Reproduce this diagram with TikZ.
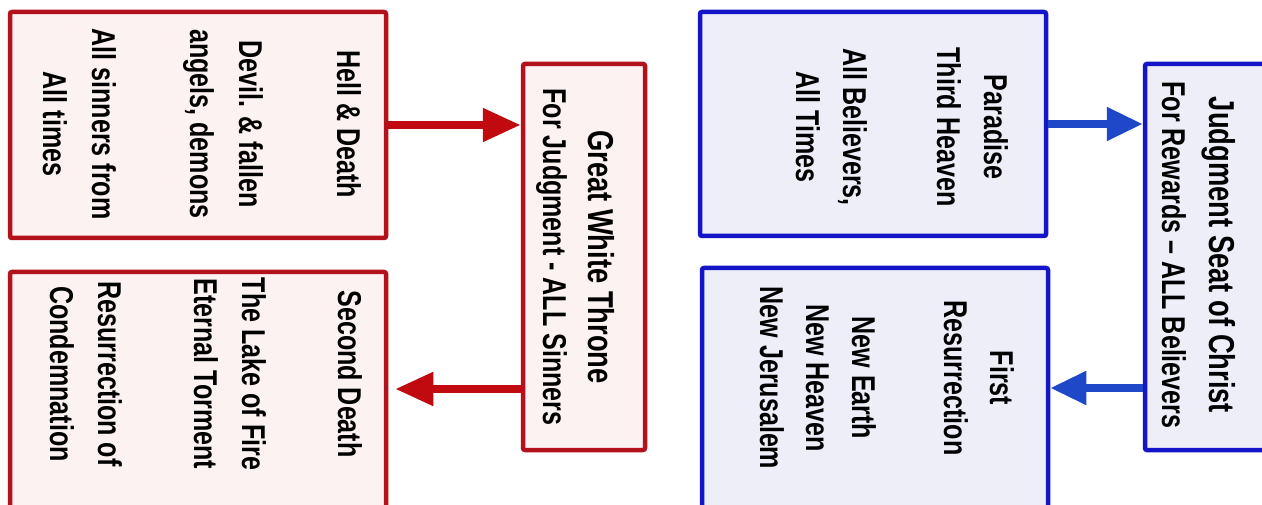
\documentclass[tikz,border=0pt]{standalone}
\usepackage{fontspec}
\setmainfont{Liberation Sans}
\usetikzlibrary{arrows.meta}
\definecolor{redline}{HTML}{B3121C}
\definecolor{redfill}{HTML}{FDF2F2}
\definecolor{blueline}{HTML}{1414C8}
\definecolor{bluefill}{HTML}{EEEEF9}
\definecolor{redarr}{HTML}{C00A0F}
\definecolor{bluearr}{HTML}{1E48C8}
\newcommand{\cond}[2]{\scalebox{0.76}[1]{\fontsize{33}{#1}\selectfont\bfseries\begin{tabular}[t]{@{}c@{}}#2\end{tabular}}}
\tikzset{
  boxbase/.style={rectangle, line width=4.5pt, rounded corners=2pt, inner sep=0pt},
  redbox/.style={boxbase, draw=redline, fill=redfill},
  bluebox/.style={boxbase, draw=blueline, fill=bluefill},
  txt/.style={rotate=-90, anchor=base, inner sep=0pt, text=black},
  redarrow/.style={draw=redarr, line width=8pt, -{Triangle[length=38pt,width=32pt]}},
  bluearrow/.style={draw=bluearr, line width=8pt, -{Triangle[length=36pt,width=32pt]}}
}
\begin{document}
\begin{tikzpicture}[x=1pt,y=-1pt]
\useasboundingbox (0,0) rectangle (1262,505);
\clip (0,0) rectangle (1262,505);
\fill[white] (0,0) rectangle (1262,505);
% boxes
\node[redbox, minimum width=376pt, minimum height=226pt] (hell) at (198,125) {};
\node[redbox, minimum width=376pt, minimum height=248pt] (sd) at (198,396) {};
\node[redbox, minimum width=122pt, minimum height=386pt] (gwt) at (584,257) {};
\node[bluebox, minimum width=346pt, minimum height=224pt] (par) at (873,124) {};
\node[bluebox, minimum width=346pt, minimum height=252pt] (fr) at (875,394) {};
\node[bluebox, minimum width=135pt, minimum height=386pt] (jsc) at (1212.5,257) {};
% texts
\node[txt] (hellt) at (337,124) {\cond{49}{Hell \& Death\\ \\Devil. \& fallen\\angels, demons\\ \\All sinners from\\All times}};
\node[txt] (sdt) at (338,374) {\cond{48}{Second Death\\ \\The Lake of Fire\\Eternal Torment\\ \\Resurrection of\\Condemnation}};
\node[txt] (gwtt) at (588,257) {\cond{45}{\fontsize{36}{45}\selectfont Great White Throne\\For Judgment - ALL Sinners}};
\node[txt] (part) at (984,127) {\cond{47}{Paradise\\Third Heaven\\ \\All Believers,\\All Times}};
\node[txt] (frt) at (990,378) {\cond{46}{First\\Resurrection\\ \\New Earth\\New Heaven\\New Jerusalem}};
\node[txt] (jsct) at (1209,255) {\cond{47}{\fontsize{36}{47}\selectfont Judgment Seat of Christ\\For Rewards – ALL Believers}};
% arrows
\draw[redarrow] (hell.east) -- (gwt.west |- hell.east);
\draw[redarrow, shorten >=7pt] (gwt.west |- 0,389) -- (sd.east |- 0,389);
\draw[bluearrow] (par.east) -- (jsc.west |- par.east);
\draw[bluearrow] (jsc.west |- 0,388) -- (fr.east |- 0,388);
\end{tikzpicture}
\end{document}
